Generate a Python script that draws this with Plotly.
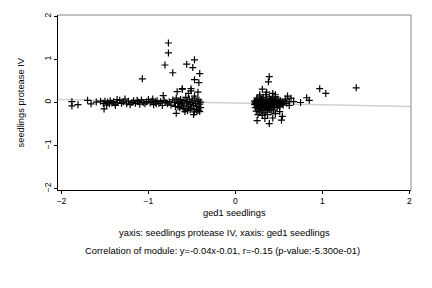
import plotly.graph_objects as go

# Left cluster (x, y)
left_x = [-1.88, -1.88, -1.81, -1.70, -1.66, -1.60, -1.55, -1.51,
          -1.52, -1.50, -1.48, -1.47, -1.45, -1.44, -1.42, -1.40, -1.38, -1.36, -1.33, -1.31,
          -1.29, -1.27, -1.25, -1.23, -1.21, -1.19, -1.17, -1.15, -1.12, -1.10, -1.08, -1.06,
          -1.04, -1.02, -0.98, -0.96, -0.94, -0.92, -0.90, -0.88, -0.86, -0.84, -0.82, -0.80,
          -0.78, -0.76, -0.74, -0.72, -0.70, -0.69, -0.68, -0.66, -0.65, -0.64, -0.63, -0.62,
          -0.61, -0.60, -0.59, -0.58, -0.57, -0.56, -0.55, -0.54, -0.53, -0.52, -0.51, -0.50,
          -0.49, -0.48, -0.47, -0.46, -0.45, -0.44, -0.43, -0.42, -0.41, -0.40, -0.40, -0.42,
          -0.44, -0.47, -0.52, -0.55, -0.60, -0.66, -1.38, -1.13, -0.91, -1.36, -1.00, -0.95,
          -0.77, -0.77, -0.81, -0.72, -1.07, -0.47, -0.56, -0.49, -0.41, -0.47, -0.42, -0.61,
          -0.51, -0.83, -0.67, -0.61, -0.54, -0.51, -0.47, -0.43, -0.68, -0.58, -0.48, -0.41]
left_y = [0.02, -0.08, -0.05, 0.05, -0.03, 0.01, 0.03, -0.15,
          -0.02, 0.03, -0.06, 0.01, -0.03, 0.04, -0.01, 0.02, -0.04, 0.00, 0.05, -0.02,
          0.01, 0.08, -0.03, 0.03, -0.05, 0.00, 0.04, -0.02, 0.02, -0.04, 0.06, 0.00,
          -0.03, 0.02, -0.01, 0.03, -0.05, 0.01, 0.04, -0.02, 0.02, -0.07, 0.05, 0.00,
          -0.03, 0.02, -0.06, 0.06, 0.00, -0.09, 0.10, -0.02, 0.03, -0.12, 0.07, -0.04,
          0.01, -0.08, 0.05, -0.15, 0.12, -0.03, 0.02, -0.10, 0.08, -0.05, 0.00, -0.13,
          0.04, -0.07, 0.10, -0.02, -0.16, 0.03, -0.09, 0.06, -0.04, -0.12, 0.01, -0.18,
          -0.20, -0.22, -0.17, -0.19, -0.15, -0.10, -0.07, 0.05, -0.03, 0.07, 0.07, 0.08,
          1.38, 1.15, 0.87, 0.69, 0.55, 0.99, 0.89, 0.81, 0.67, 0.53, 0.46, 0.32,
          0.32, 0.16, 0.25, 0.31, 0.21, 0.27, 0.15, 0.24, -0.25, -0.21, -0.28, -0.21]

# Right cluster (x, y)
right_x = [0.23, 0.23, 0.23, 0.24, 0.24, 0.25, 0.25, 0.26, 0.26, 0.26, 0.27, 0.27, 0.28, 0.28,
           0.28, 0.29, 0.29, 0.30, 0.30, 0.30, 0.31, 0.31, 0.32, 0.32, 0.32, 0.33, 0.33, 0.34,
           0.34, 0.35, 0.35, 0.35, 0.36, 0.36, 0.37, 0.37, 0.38, 0.38, 0.39, 0.39, 0.40, 0.40,
           0.41, 0.41, 0.42, 0.42, 0.43, 0.43, 0.44, 0.45, 0.45, 0.46, 0.46, 0.47, 0.48, 0.48,
           0.49, 0.50, 0.51, 0.52, 0.53, 0.54, 0.55, 0.57, 0.58, 0.59,
           0.24, 0.25, 0.27, 0.29, 0.31, 0.33, 0.36, 0.38, 0.40, 0.44, 0.47, 0.50, 0.22, 0.22,
           0.39, 0.38, 0.97, 1.04, 1.39, 0.82, 0.85, 0.75, 0.25, 0.39, 0.34, 0.43, 0.53, 0.54,
           0.51, 0.60, 0.64, 0.67, 0.62, 0.62, 0.31, 0.36, 0.43, 0.46, 0.28, 0.41, 0.50]
right_y = [0.00, -0.05, -0.12, 0.05, -0.20, -0.08, 0.10, -0.02, -0.15, -0.28, 0.03, -0.10, 0.15, -0.05,
           -0.22, 0.01, -0.12, 0.07, -0.03, -0.18, -0.08, -0.30, 0.12, 0.00, -0.14, -0.05, -0.24, 0.04,
           -0.10, 0.18, -0.02, -0.19, 0.08, -0.07, -0.13, -0.28, 0.02, -0.04, 0.13, -0.16, -0.01, -0.09,
           0.06, -0.22, 0.00, -0.12, 0.10, -0.05, -0.17, 0.03, -0.08, 0.13, -0.26, -0.02, 0.07, -0.12,
           -0.05, 0.02, -0.10, 0.04, -0.03, 0.01, -0.06, 0.03, 0.08, -0.02,
           -0.02, 0.02, -0.06, -0.09, 0.04, -0.01, -0.11, 0.01, -0.06, -0.03, 0.05, -0.07, -0.04, 0.03,
           0.60, 0.48, 0.32, 0.21, 0.34, 0.11, 0.05, 0.00, -0.42, -0.49, -0.37, -0.36, -0.41, -0.32,
           -0.21, 0.15, 0.10, 0.02, 0.02, -0.07, 0.31, 0.24, 0.21, 0.18, 0.18, 0.08, 0.06]

slope = -0.04
intercept = -0.01
x_range = [-2.04, 2.02]
y_range = [-2.03, 2.03]
x_ticks = [-2, -1, 0, 1, 2]
y_ticks = [-2, -1, 0, 1, 2]

font = "Liberation Sans, Arial, sans-serif"

fig = go.Figure()
fig.add_trace(go.Scatter(
    x=x_range, y=[slope * v + intercept for v in x_range], mode="lines",
    line=dict(color="#d0d0d0", width=1.5), hoverinfo="skip", showlegend=False))
fig.add_trace(go.Scatter(
    x=left_x + right_x, y=left_y + right_y, mode="markers",
    marker=dict(symbol="cross-thin-open", size=5, color="black",
                line=dict(color="black", width=1.2)),
    showlegend=False))

fig.update_layout(
    width=432, height=288, paper_bgcolor="white", plot_bgcolor="white",
    margin=dict(l=58, r=21, t=13, b=98),
    font=dict(family=font, size=8.5, color="black"),
    xaxis=dict(range=x_range, tickvals=x_ticks, ticks="outside", ticklen=3, tickcolor="black",
               showgrid=False, zeroline=False, showline=True, linecolor="black", linewidth=1,
               tickfont=dict(size=8.5)),
    yaxis=dict(range=y_range, tickvals=y_ticks, ticks="outside", ticklen=3, tickcolor="black",
               showgrid=False, zeroline=False, showline=True, linecolor="black", linewidth=1,
               tickangle=-90, tickfont=dict(size=8.5)),
    shapes=[
        dict(type="line", xref="paper", yref="paper", x0=0, x1=1, y0=1, y1=1,
             line=dict(color="#888888", width=1)),
        dict(type="line", xref="paper", yref="paper", x0=1, x1=1, y0=0, y1=1,
             line=dict(color="#888888", width=1)),
    ],
    annotations=[
        dict(text="seedlings protease IV", xref="paper", yref="paper", x=-0.105, y=0.5,
             textangle=-90, showarrow=False, xanchor="center", yanchor="middle",
             font=dict(size=9.3)),
        dict(text="ged1 seedlings", xref="paper", yref="paper", x=0.5, y=-0.13,
             showarrow=False, xanchor="center", yanchor="middle", font=dict(size=9.3)),
        dict(text="yaxis: seedlings protease IV, xaxis: ged1 seedlings", xref="paper", yref="paper",
             x=0.472, y=-0.245, showarrow=False, xanchor="center", yanchor="middle",
             font=dict(size=9.4)),
        dict(text="Correlation of module: y=-0.04x-0.01, r=-0.15 (p-value:-5.300e-01)",
             xref="paper", yref="paper", x=0.467, y=-0.345, showarrow=False,
             xanchor="center", yanchor="middle", font=dict(size=9.4)),
    ],
)

fig.write_html("out.html")
